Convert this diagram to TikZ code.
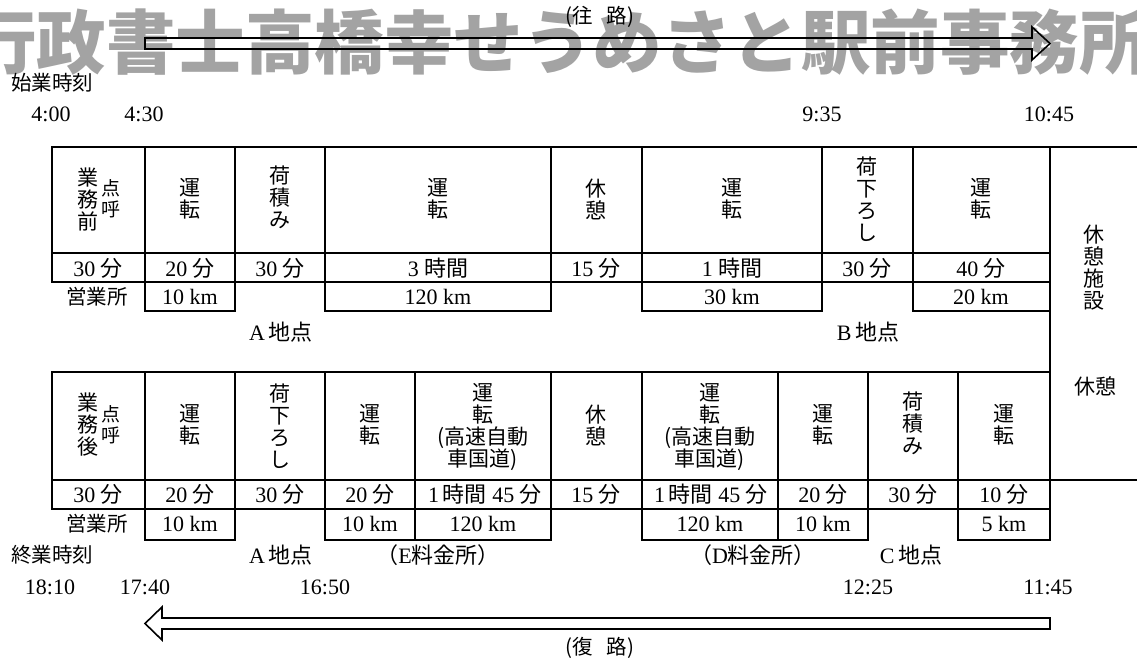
\documentclass[tikz,border=0pt]{standalone}
\usepackage{fontspec}
\setmainfont{Liberation Serif}
\newfontfamily\jp{Noto Sans CJK JP}
\newfontfamily\wmfont{Noto Sans CJK JP}
\definecolor{wmgray}{RGB}{163,163,163}
\tikzset{
  tl/.style={line width=1.3pt, line join=miter},
  al/.style={line width=1.6pt, line join=miter},
  cj/.style={font=\jp\fontsize{21}{22}\selectfont, align=center, inner sep=0pt},
  cjs/.style={font=\jp\fontsize{19}{21}\selectfont, align=center, inner sep=0pt},
  lb/.style={font=\jp\fontsize{20.5}{21}\selectfont, inner sep=0pt},
  num/.style={font=\fontsize{22}{22}\selectfont, inner sep=0pt},
  tm/.style={font=\fontsize{22}{22}\selectfont, inner sep=0pt},
}
\begin{document}
\begin{tikzpicture}[x=1pt,y=-1pt]
\clip (0,0) rectangle (1137,660);
\fill[white] (0,0) rectangle (1137,660);
% watermark
\node[anchor=west, font=\wmfont\bfseries\fontsize{69.5}{69.5}\selectfont, text=wmgray, inner sep=0pt] (wm) at (-33,42) {行政書士高橋幸せうめさと駅前事務所};
% outbound arrow
\node[lb] (ou) at (600,17) {(往\ \ \ 路)};
\draw[al] (145,38) -- (1032,38) -- (1032,27) -- (1050,43.5) -- (1032,60) -- (1032,49) -- (145,49) -- cycle;
% start times
\node[lb, anchor=west] (st) at (11,83) {始業時刻};
\node[tm] (t1) at (51,114) {4:00};
\node[tm] (t2) at (144,114) {4:30};
\node[tm] (t3) at (822,114) {9:35};
\node[tm] (t4) at (1049,114) {10:45};
% ---------- top table ----------
\draw[tl] (52,147) -- (1137,147);
\draw[tl] (52,147) rectangle (1050,282);
\draw[tl] (52,253) -- (1050,253);
\foreach \x in {145,235,325,551,642,822,913} \draw[tl] (\x,147) -- (\x,282);
\draw[tl] (1050,147) -- (1050,540);
\foreach \a/\b in {145/235,325/551,642/822,913/1050} \draw[tl] (\a,282) rectangle (\b,311);
% labels
\node[cj] (u1a) at (88,199) {業\\務\\前};
\node[cjs] (u1b) at (111,199) {点\\呼};
\node[cj] (u2) at (190,199) {運\\転};
\node[cj] (u3) at (280,197) {荷\\積\\み};
\node[cj] (u4) at (438,199) {運\\転};
\node[cj] (u5) at (596,199) {休\\憩};
\node[cj] (u6) at (732,199) {運\\転};
\node[cj] (u7) at (867,199) {荷\\下\\ろ\\し};
\node[cj] (u8) at (981,199) {運\\転};
% minutes
\node[num] (m1) at (98,268) {30 {\jp 分}};
\node[num] (m2) at (190,268) {20 {\jp 分}};
\node[num] (m3) at (280,268) {30 {\jp 分}};
\node[num] (m4) at (438,268) {3 {\jp 時間}};
\node[num] (m5) at (596,268) {15 {\jp 分}};
\node[num] (m6) at (732,268) {1 {\jp 時間}};
\node[num] (m7) at (867,268) {30 {\jp 分}};
\node[num] (m8) at (981,268) {40 {\jp 分}};
% km
\node[lb] (e1) at (97,297) {営業所};
\node[num] (k1) at (190,297) {10 km};
\node[num] (k2) at (438,297) {120 km};
\node[num] (k3) at (732,297) {30 km};
\node[num] (k4) at (981,297) {20 km};
\node[num] (pa) at (281,332) {A\,{\jp 地点}};
\node[num] (pb) at (868,332) {B\,{\jp 地点}};
% rest facility
\node[cj] (rf) at (1094,268) {休\\憩\\施\\設};
\node[cj] (rs) at (1095,386) {休憩};
% ---------- bottom table ----------
\draw[tl] (52,372) rectangle (1050,509);
\draw[tl] (52,480) -- (1137,480);
\foreach \x in {145,235,325,415,551,642,778,868,958} \draw[tl] (\x,372) -- (\x,509);
\foreach \a/\b in {145/235,325/415,415/551,642/778,778/868,958/1050} \draw[tl] (\a,509) rectangle (\b,540);
% labels
\node[cj] (l1a) at (88,425) {業\\務\\後};
\node[cjs] (l1b) at (111,425) {点\\呼};
\node[cj] (l2) at (190,425) {運\\転};
\node[cj] (l3) at (280,426) {荷\\下\\ろ\\し};
\node[cj] (l4) at (370,425) {運\\転};
\node[cj] (l5) at (483,427) {運\\転\\(高速自動\\車国道)};
\node[cj] (l6) at (596,425) {休\\憩};
\node[cj] (l7) at (710,427) {運\\転\\(高速自動\\車国道)};
\node[cj] (l8) at (823,425) {運\\転};
\node[cj] (l9) at (913,423) {荷\\積\\み};
\node[cj] (l10) at (1004,425) {運\\転};
% minutes
\node[num] (n1) at (98,494) {30 {\jp 分}};
\node[num] (n2) at (190,494) {20 {\jp 分}};
\node[num] (n3) at (280,494) {30 {\jp 分}};
\node[num] (n4) at (370,494) {20 {\jp 分}};
\node[num] (n5) at (485,494) {1\,{\jp 時間} 45 {\jp 分}};
\node[num] (n6) at (596,494) {15 {\jp 分}};
\node[num] (n7) at (711,494) {1\,{\jp 時間} 45 {\jp 分}};
\node[num] (n8) at (823,494) {20 {\jp 分}};
\node[num] (n9) at (913,494) {30 {\jp 分}};
\node[num] (n10) at (1004,494) {10 {\jp 分}};
% km
\node[lb] (e2) at (97,524) {営業所};
\node[num] (j1) at (190,524) {10 km};
\node[num] (j2) at (370,524) {10 km};
\node[num] (j3) at (483,524) {120 km};
\node[num] (j4) at (710,524) {120 km};
\node[num] (j5) at (823,524) {10 km};
\node[num] (j6) at (1004,524) {5 km};
% places
\node[lb, anchor=west] (et) at (11,555) {終業時刻};
\node[num] (qa) at (281,555) {A\,{\jp 地点}};
\node[num] (qe) at (438,555) {{\jp （}E{\jp 料金所）}};
\node[num] (qd) at (753,555) {{\jp （}D{\jp 料金所）}};
\node[num] (qc) at (911,555) {C\,{\jp 地点}};
\node[tm] (s1) at (50,587) {18:10};
\node[tm] (s2) at (145,587) {17:40};
\node[tm] (s3) at (325,587) {16:50};
\node[tm] (s4) at (868,587) {12:25};
\node[tm] (s5) at (1048,587) {11:45};
% return arrow
\draw[al] (1050,618) -- (162,618) -- (162,607) -- (145,623.5) -- (162,640) -- (162,629) -- (1050,629) -- cycle;
\node[lb] (re) at (600,648) {(復\ \ \ 路)};
\end{tikzpicture}
\end{document}
